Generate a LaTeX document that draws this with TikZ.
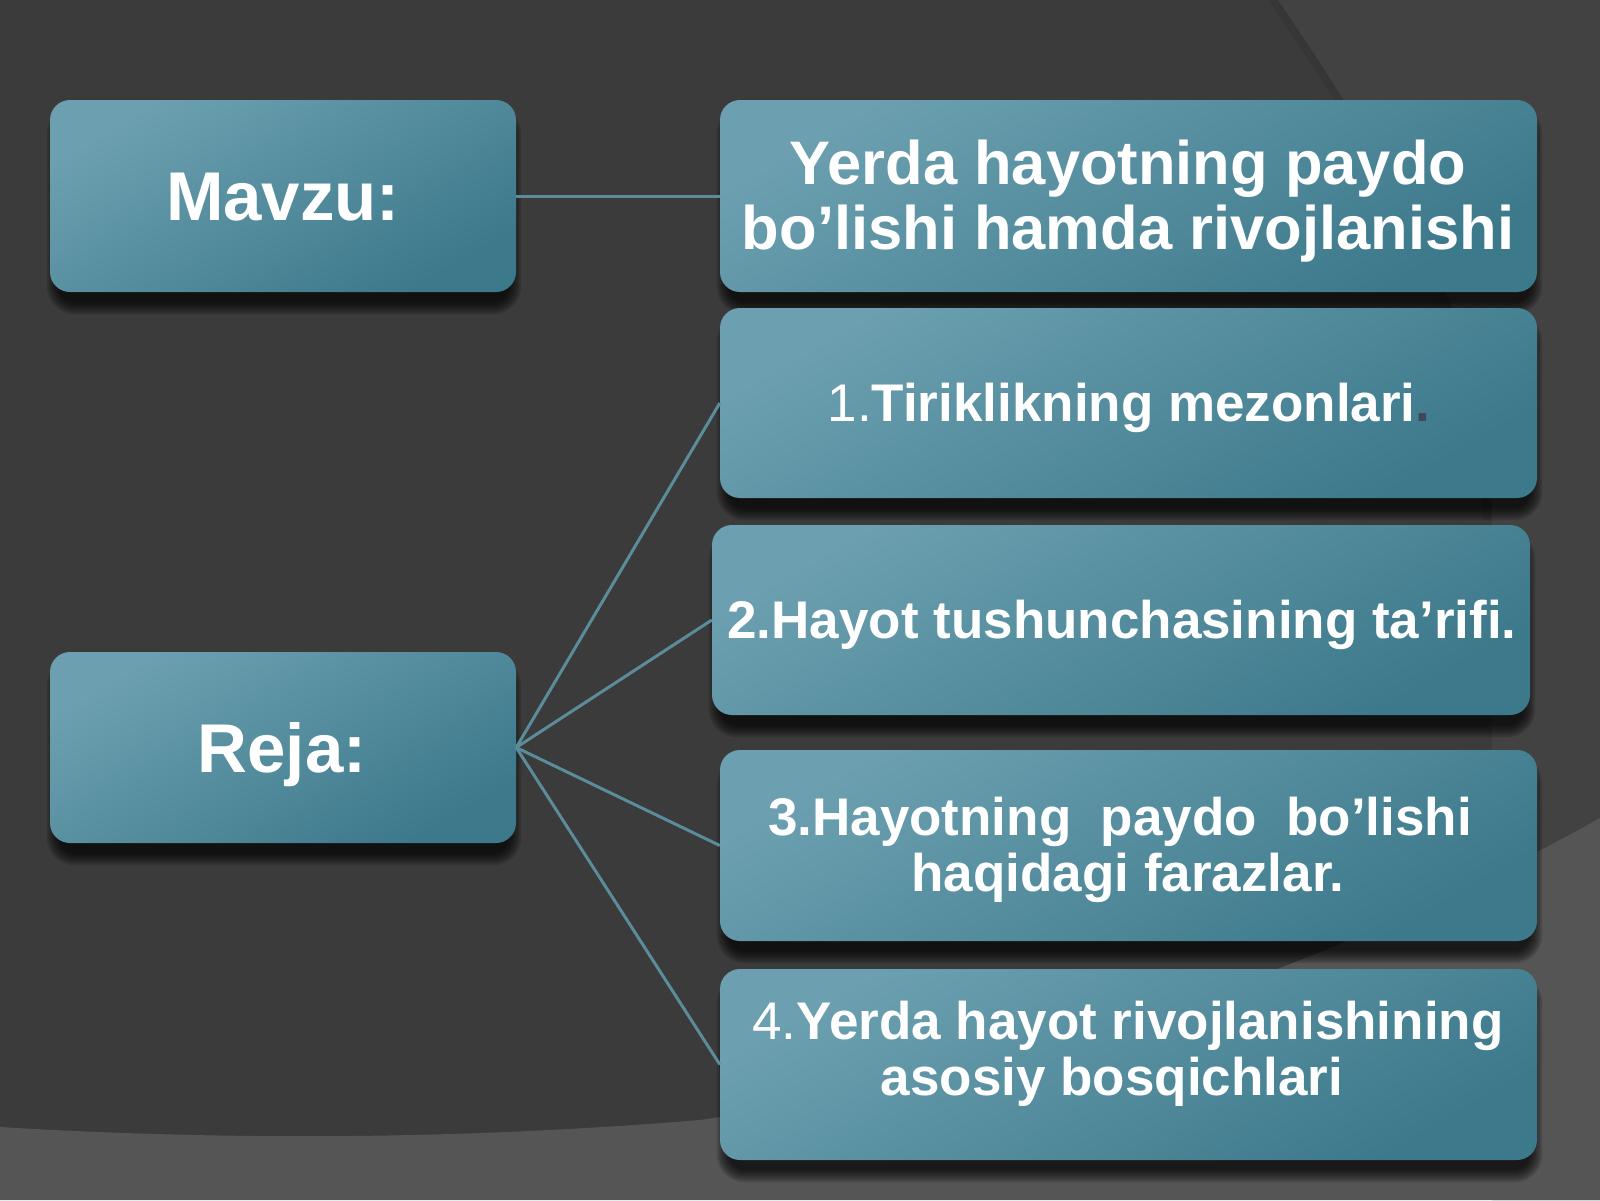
\documentclass[tikz,border=0pt]{standalone}
\usepackage{fontspec}
\setmainfont{Liberation Sans}
\usetikzlibrary{calc,backgrounds}
\definecolor{bgbase}{HTML}{3B3B3B}
\definecolor{bgA}{HTML}{424242}
\definecolor{bgB}{HTML}{555555}
\definecolor{boxtop}{HTML}{6CA0B0}
\definecolor{boxbot}{HTML}{3C798B}
\definecolor{linkc}{HTML}{5B8C9B}
\definecolor{dotc}{HTML}{3E4858}
\newcommand{\myshadow}[1]{%
  \foreach \k in {-4,-2,0,2,4,6,8} {%
    \pgfmathsetmacro{\rr}{20+\k}%
    \pgfmathsetmacro{\hx}{\k-4}%
    \fill[black, opacity=0.15, rounded corners=\rr pt]
      ($(#1.north west)+(1-\hx,14-\k)$) rectangle ($(#1.south east)+(1+\hx,14+\k)$);
  }}
\tikzset{
  panel/.style={rectangle, rounded corners=20pt, top color=boxtop, bottom color=boxbot,
    shading angle=30, inner sep=0pt},
  bigtxt/.style={font=\fontsize{69}{75}\selectfont\bfseries, text=white, inner sep=0pt, anchor=base},
  ttltxt/.style={font=\fontsize{61.5}{65}\selectfont\bfseries, text=white, inner sep=0pt, anchor=base},
  itmtxt/.style={font=\fontsize{53}{56}\selectfont\bfseries, text=white, inner sep=0pt, anchor=base},
  link/.style={draw=linkc, line width=3pt},
}
\begin{document}
\begin{tikzpicture}[x=1pt,y=-1pt]
\useasboundingbox (0,0) rectangle (1600,1200);
% boxes
\node[panel, minimum width=466pt, minimum height=192pt] (mavzu) at (283,196) {};
\node[panel, minimum width=817pt, minimum height=192pt] (title) at (1128.5,196) {};
\node[panel, minimum width=817pt, minimum height=190pt] (b1) at (1128.5,403) {};
\node[panel, minimum width=818pt, minimum height=190pt] (b2) at (1121,620) {};
\node[panel, minimum width=817pt, minimum height=191pt] (b3) at (1128.5,845.5) {};
\node[panel, minimum width=817pt, minimum height=191pt] (b4) at (1128.5,1064.5) {};
\node[panel, minimum width=466pt, minimum height=191pt] (reja) at (283,747.5) {};
% texts
\node[bigtxt] (tm) at (283,220) {Mavzu:};
\node[bigtxt] (tr) at (282,772) {Reja:};
\node[ttltxt] (tt1) at (1128,184) {Yerda hayotning paydo};
\node[ttltxt] (tt2) at (1128,249) {bo’lishi hamda rivojlanishi};
\node[itmtxt] (t1) at (1129,421) {{\mdseries 1.}Tiriklikning mezonlari\textcolor{dotc}{.}};
\node[itmtxt] (t2) at (1122,638) {2.Hayot tushunchasining ta’rifi.};
\node[itmtxt] (t3a) at (1120,835) {3.Hayotning\ \ paydo\ \ bo’lishi};
\node[itmtxt] (t3b) at (1128,891) {haqidagi farazlar.};
\node[itmtxt] (t4a) at (1128,1039) {{\mdseries 4.}Yerda hayot rivojlanishining};
\node[itmtxt] (t4b) at (1112,1095) {asosiy bosqichlari};
% connectors
\draw[link] (mavzu.east) -- (title.west);
\foreach \b in {b1,b2,b3,b4} {\draw[link] (reja.east) -- (\b.west);}
% background
\begin{scope}[on background layer]
\fill[bgbase] (0,0) rectangle (1600,1200);
\fill[bgA] (1278,0) .. controls (1400,180) and (1492,330) .. (1492,520) -- (1492,1200) -- (1600,1200) -- (1600,0) -- cycle;
\draw[black, opacity=0.07, line width=8pt] (1273,0) .. controls (1395,180) and (1487,330) .. (1487,520);
\fill[bgB] (0,1127) .. controls (250,1142) and (480,1138) .. (700,1120) .. controls (1100,1060) and (1400,930) .. (1600,818) -- (1600,1200) -- (0,1200) -- cycle;
\foreach \n in {mavzu,title,b1,b2,b3,b4,reja} {\myshadow{\n}}
\end{scope}
\end{tikzpicture}
\end{document}
